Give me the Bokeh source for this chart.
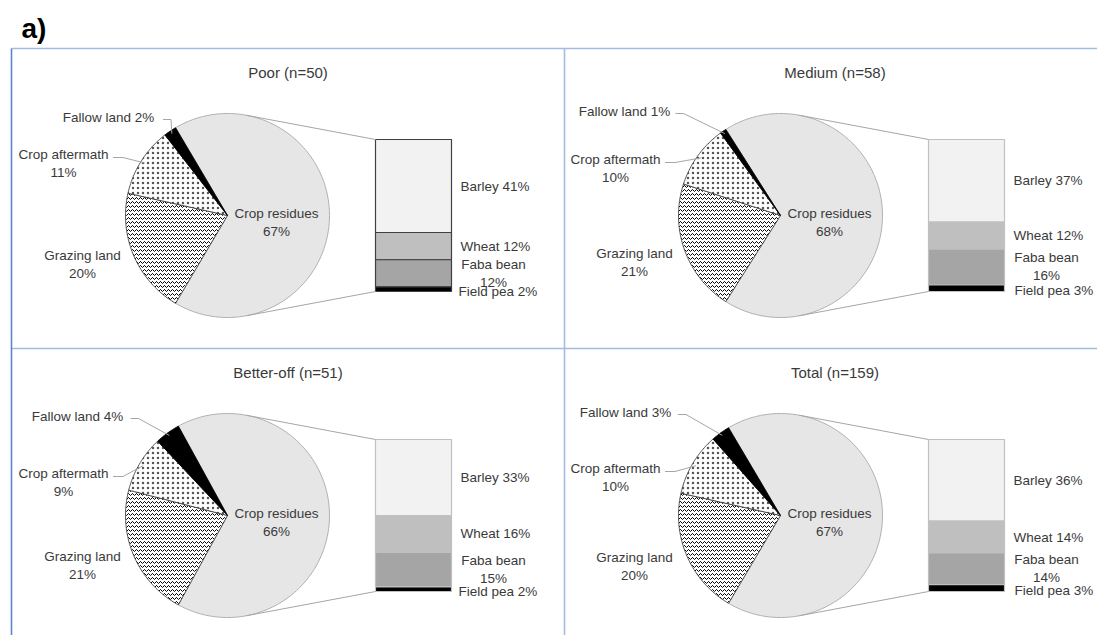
import math
from bokeh.plotting import figure
from bokeh.models import Range1d
from bokeh.embed import file_html
from bokeh.resources import INLINE
from bokeh.core.properties import value

# ---------------- data ----------------
groups = ["Poor", "Medium", "Better-off", "Total"]
sample_n = [50, 58, 51, 159]
land_types = ["Crop residues", "Grazing land", "Crop aftermath", "Fallow land"]
crop_residues = [67, 68, 66, 67]
grazing_land = [20, 21, 21, 20]
crop_aftermath = [11, 10, 9, 10]
fallow_land = [2, 1, 4, 3]
residue_types = ["Barley", "Wheat", "Faba bean", "Field pea"]
barley = [41, 37, 33, 36]
wheat = [12, 12, 16, 14]
faba_bean = [12, 16, 15, 14]
field_pea = [2, 3, 2, 3]

# ---------------- layout / style ----------------
FONT = "Liberation Sans"
TXT = "#3a3a3a"
W, H = 1097, 635
panel_origin = [(11, 48), (564, 48), (11, 348), (564, 348)]
panel_width = [553, 541, 553, 541]
pie_off = (216, 167)
R = 102
bar_x_off = (364, 440)
bar_h = 152
grazing_lbl = [(-145, 49), (-146, 47), (-145, 50), (-146, 51)]
aftermath_lbl = [(-164, -52), (-165, -47), (-164, -33), (-165, -38)]
fallow_lbl = [(-119, -98), (-156, -104), (-150, -99), (-155, -103)]
fallow_lbl_w = [103, 96, 100, 99]
aftermath_lbl_w = 93
residue_lbl = (49, 7)
bar_line = ["#404040", "#c0c0c0", "#c0c0c0", "#c0c0c0"]
sub_colors = ["#f2f2f2", "#bfbfbf", "#a5a5a5", "#000000"]
pea_dx = [7, 10, 7, 10]

p = figure(width=W, height=H, output_backend="svg", toolbar_location=None,
           x_range=Range1d(0, W), y_range=Range1d(H, 0),
           min_border=0, outline_line_color=None)
p.axis.visible = False
p.grid.visible = False
p.background_fill_color = "white"
p.border_fill_color = "white"


def arc(cx, cy, r, a0, a1):
    xs, ys = [cx], [cy]
    steps = max(3, int(abs(a1 - a0) / 1.5) + 2)
    for i in range(steps + 1):
        a = math.radians(a0 + (a1 - a0) * i / steps)
        xs.append(cx + r * math.sin(a))
        ys.append(cy - r * math.cos(a))
    return xs, ys


def pt(cx, cy, r, a):
    a = math.radians(a)
    return cx + r * math.sin(a), cy - r * math.cos(a)


def tangent(px, py, cx, cy, r, upper):
    dx, dy = px - cx, py - cy
    d = math.hypot(dx, dy)
    phi = math.atan2(dy, dx)
    t = math.acos(r / d)
    cands = [(cx + r * math.cos(phi + s * t), cy + r * math.sin(phi + s * t)) for s in (1, -1)]
    cands.sort(key=lambda c: c[1])
    return cands[0] if upper else cands[1]


def txt(xs, ys, texts, size="13.5px", align="left", color=TXT, style="normal"):
    p.text(x=xs, y=ys, text=texts, text_font=value(FONT), text_font_size=value(size),
           text_color=color, text_align=align, text_baseline="middle",
           text_font_style=style, text_line_height=1.2)


# panel borders
p.segment(x0=[11, 11], y0=[48, 348], x1=[W, W], y1=[48, 348],
          line_color="#a4bbe3", line_width=1.6)
p.segment(x0=[564], y0=[48], x1=[564], y1=[H], line_color="#a4bbe3", line_width=1.6)
p.segment(x0=[11], y0=[48], x1=[11], y1=[H], line_color="#5b86cc", line_width=1.6)

txt([21], [28], ["a)"], size="28px", color="#000000", style="bold")

for g in range(4):
    ox, oy = panel_origin[g]
    cx, cy = ox + pie_off[0], oy + pie_off[1]
    # title
    txt([ox + panel_width[g] / 2], [oy + 24], [f"{groups[g]} (n={sample_n[g]})"], size="15px", align="center")

    vals = [crop_residues[g], grazing_land[g], crop_aftermath[g], fallow_land[g]]
    a_start = 90 - vals[0] * 1.8
    angles = []
    a = a_start
    for v in vals:
        angles.append((a, a + v * 3.6))
        a += v * 3.6

    # crop residues slice
    xs, ys = arc(cx, cy, R, *angles[0])
    p.patch(xs, ys, fill_color="#e6e6e6", line_color="#b0b0b0", line_width=1)
    # grazing land
    xs, ys = arc(cx, cy, R, *angles[1])
    p.patch(xs, ys, fill_color="white", hatch_pattern="horizontal_wave", hatch_color="#000000",
            hatch_scale=4, hatch_weight=1.0, line_color="#333333", line_width=0.8)
    # crop aftermath
    xs, ys = arc(cx, cy, R, *angles[2])
    p.patch(xs, ys, fill_color="white", hatch_pattern="dot", hatch_color="#555555",
            hatch_scale=5, hatch_weight=0.25, line_color="#333333", line_width=0.8)
    # fallow land
    xs, ys = arc(cx, cy, R, *angles[3])
    p.patch(xs, ys, fill_color="#000000", line_color="#000000", line_width=0.8)

    # sub bar
    subs = [barley[g], wheat[g], faba_bean[g], field_pea[g]]
    scale = bar_h / sum(subs)
    bx0, bx1 = ox + bar_x_off[0], ox + bar_x_off[1]
    top0 = cy - bar_h / 2
    tops, bots = [], []
    t = top0
    for v in subs:
        tops.append(t)
        bots.append(t + v * scale)
        t += v * scale
    p.quad(left=[bx0] * 4, right=[bx1] * 4, top=tops, bottom=bots,
           fill_color=sub_colors, line_color=bar_line[g], line_width=1.2)

    # connector lines
    tx0, ty0 = tangent(bx0, top0, cx, cy, R, True)
    tx1, ty1 = tangent(bx0, top0 + bar_h, cx, cy, R, False)
    p.segment(x0=[tx0, tx1], y0=[ty0, ty1], x1=[bx0, bx0], y1=[top0, top0 + bar_h],
              line_color="#a6a6a6", line_width=1)

    # bar labels
    for i, name in enumerate(residue_types):
        mid = (tops[i] + bots[i]) / 2
        if name == "Faba bean":
            txt([bx1 + 42], [mid], [f"{name}\n{subs[i]}%"], align="center")
        elif name == "Field pea":
            txt([bx1 + pea_dx[g]], [mid + 2], [f"{name} {subs[i]}%"])
        else:
            txt([bx1 + 9], [mid], [f"{name} {subs[i]}%"])

    # pie labels
    txt([cx + residue_lbl[0]], [cy + residue_lbl[1]], [f"{land_types[0]}\n{vals[0]}%"], align="center")
    gx, gy = cx + grazing_lbl[g][0], cy + grazing_lbl[g][1]
    txt([gx], [gy], [f"{land_types[1]}\n{vals[1]}%"], align="center")
    ax, ay = cx + aftermath_lbl[g][0], cy + aftermath_lbl[g][1]
    txt([ax], [ay], [f"{land_types[2]}\n{vals[2]}%"], align="center")
    fx, fy = cx + fallow_lbl[g][0], cy + fallow_lbl[g][1]
    txt([fx], [fy], [f"{land_types[3]} {vals[3]}%"], align="center")

    # leader lines
    am = (angles[2][0] + angles[2][1]) / 2
    fm = (angles[3][0] + angles[3][1]) / 2
    ex, ey = pt(cx, cy, R - 4, am)
    sx = ax + aftermath_lbl_w / 2 + 3
    lx = [[sx, sx + 10, ex]]
    ly = [[ay - 6, ay - 6, ey]]
    fx2, fy2 = pt(cx, cy, R - 3, fm)
    sfx = fx + fallow_lbl_w[g] / 2 + 3
    lx.append([sfx, sfx + 8, fx2])
    ly.append([fy + 2, fy + 2, fy2])
    p.multi_line(xs=lx, ys=ly, line_color="#a6a6a6", line_width=1)

open("out.html", "w").write(file_html(p, INLINE))
